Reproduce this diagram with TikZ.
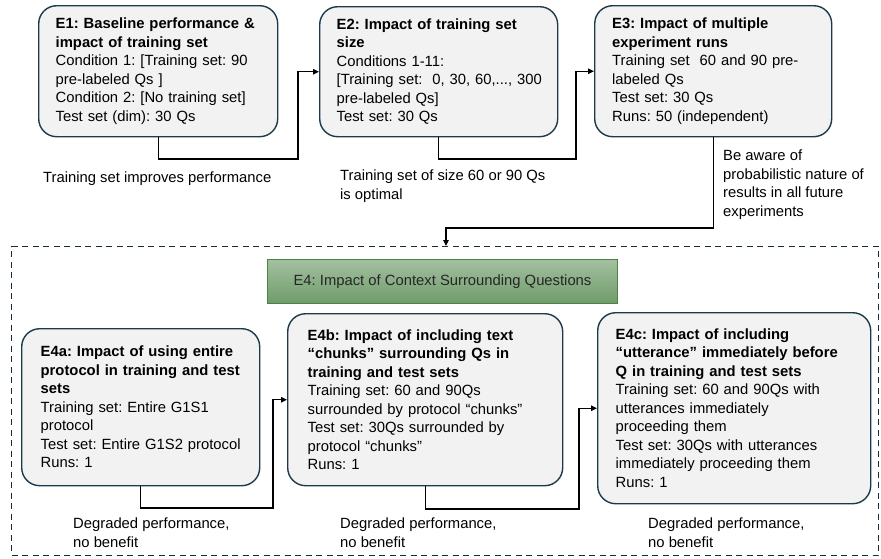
\documentclass[tikz,border=0pt]{standalone}
\usepackage{fontspec}
\setmainfont{Liberation Sans}
\usetikzlibrary{arrows.meta}
\frenchspacing
\hyphenpenalty=10000

\definecolor{boxfill}{HTML}{F2F2F2}
\definecolor{boxline}{HTML}{1C3A4A}
\definecolor{frameline}{HTML}{162C3A}
\definecolor{bannertop}{HTML}{A3BFA0}
\definecolor{bannerbot}{HTML}{6F9C6A}
\definecolor{bannerline}{HTML}{4A8244}
\definecolor{textgray}{HTML}{262626}

\begin{document}
\begin{tikzpicture}[
  x=1pt, y=-1pt,
  expbox/.style={draw=boxline, fill=boxfill, line width=1.4pt, rounded corners=18pt,
    anchor=north west, align=left, inner xsep=17pt, inner ysep=0pt,
    font=\fontsize{14.8}{18.5}\selectfont},
  note/.style={anchor=north west, align=left, inner sep=0pt,
    font=\fontsize{14.8}{18.5}\selectfont},
  arrow/.style={-{Triangle[length=6pt,width=5.5pt]}, line width=1.2pt},
  banner/.style={draw=bannerline, line width=1pt, top color=bannertop, bottom color=bannerbot,
    text=textgray, anchor=north west, minimum width=350pt, minimum height=44pt,
    font=\fontsize{14.8}{18.5}\selectfont}
]
\useasboundingbox (0,0) rectangle (881,558);

% first row of experiments
\node[expbox, text width=205pt, minimum height=131pt] (e1) at (38,5)
  {\textbf{E1: Baseline performance \&}\\\textbf{impact of training set}\\
   Condition 1: {[}Training set: 90\\pre-labeled Qs ]\\
   Condition 2: {[}No training set]\\Test set (dim): 30 Qs};
\node[expbox, text width=204pt, minimum height=130pt] (e2) at (319,6)
  {\textbf{E2: Impact of training set}\\\textbf{size}\\
   Conditions 1-11:\\\mbox{[Training set:\ \ 0, 30, 60,..., 300}\\
   pre-labeled Qs]\\Test set: 30 Qs};
\node[expbox, text width=202pt, inner xsep=17.5pt, minimum height=131pt] (e3) at (594,5)
  {\textbf{E3: Impact of multiple}\\\textbf{experiment runs}\\
   Training set\ \ 60 and 90 pre-\\labeled Qs\\Test set: 30 Qs\\
   Runs: 50 (independent)};

% E4 group
\node[draw=frameline, dash pattern=on 6pt off 4.5pt, line width=1.4pt,
  anchor=north west, minimum width=867pt, minimum height=309pt, inner sep=0pt] (frame) at (11,246) {};
\node[banner] (e4) at (267,259) {E4: Impact of Context Surrounding Questions};

\node[expbox, inner xsep=19pt, text width=200pt, minimum height=157pt] (e4a) at (21,328)
  {\textbf{E4a: Impact of using entire}\\\textbf{protocol in training and test}\\
   \textbf{sets}\\Training set: Entire G1S1\\protocol\\
   Test set: Entire G1S2 protocol\\Runs: 1};
\node[expbox, inner xsep=20pt, text width=235pt, minimum height=172pt] (e4b) at (287,313)
  {\textbf{E4b: Impact of including text}\\\textbf{“chunks” surrounding Qs in}\\
   \textbf{training and test sets}\\Training set: 60 and 90Qs\\
   surrounded by protocol “chunks”\\Test set: 30Qs surrounded by\\
   protocol “chunks”\\Runs: 1};
\node[expbox, inner xsep=18pt, text width=237pt, minimum height=191pt] (e4c) at (597,312)
  {\textbf{E4c: Impact of including}\\\textbf{“utterance” immediately before}\\
   \textbf{Q in training and test sets}\\Training set: 60 and 90Qs with\\
   utterances immediately\\proceeding them\\
   Test set: 30Qs with utterances\\immediately proceeding them\\Runs: 1};

% bend points of the connectors
\coordinate (j12) at (298,159);
\coordinate (j23) at (576,159);
\coordinate (j34) at (446,228);
\coordinate (j4ab) at (273,508);
\coordinate (j4bc) at (579,509);

\draw[arrow] (e1.south) |- (j12) |- (e2.west);
\draw[arrow] (e2.south) |- (j23) |- (e3.west);
\draw[arrow] (e3.south) |- (j34) -- (j34 |- frame.north);
\draw[arrow] (e4a.south) |- (j4ab) |- (e4b.west);
\draw[arrow] (e4b.south) |- (j4bc) |- (e4c.west);

% findings
\node[note] (n1) at (43,172) {Training set improves performance};
\node[note] (n2) at (340,170) {Training set of size 60 or 90 Qs\\is optimal};
\node[note] (n3) at (723,150) {Be aware of\\probabilistic nature of\\results in all future\\experiments};
\node[note] (n4a) at (73,518) {Degraded performance,\\no benefit};
\node[note] (n4b) at (340,518) {Degraded performance,\\no benefit};
\node[note] (n4c) at (648,518) {Degraded performance,\\no benefit};
\end{tikzpicture}
\end{document}
